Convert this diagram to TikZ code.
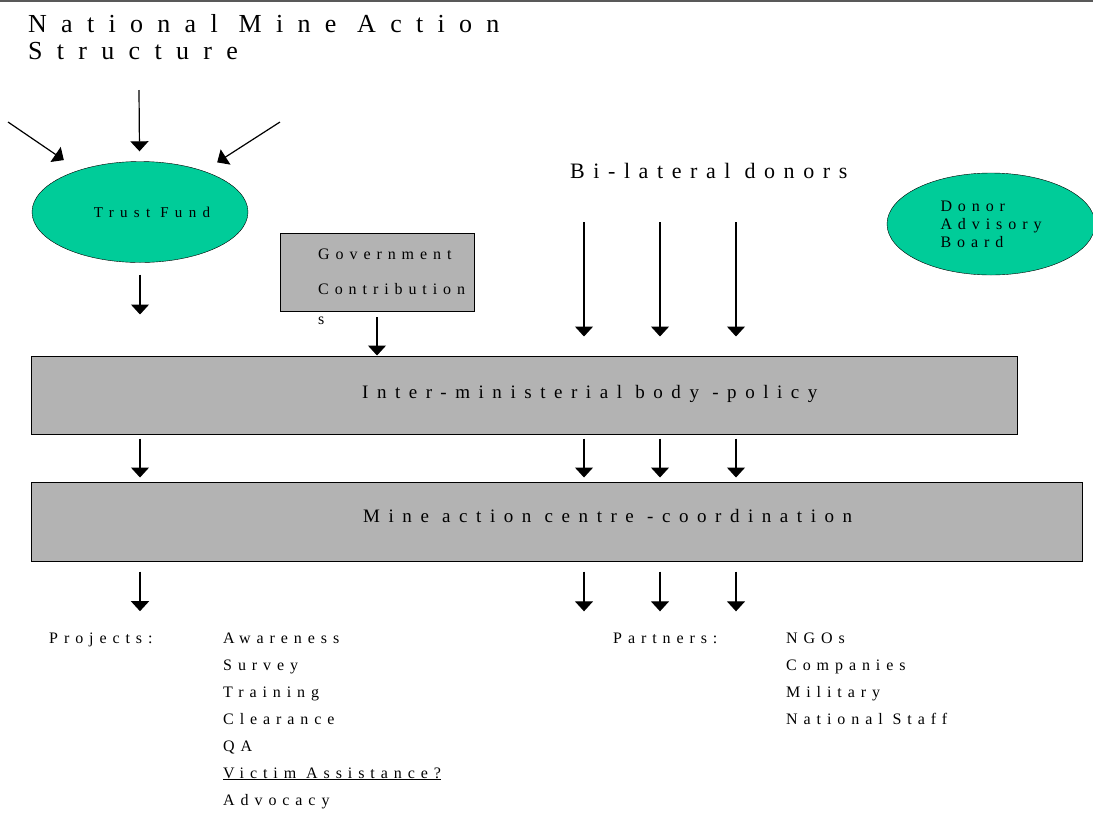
\documentclass[tikz,border=0pt]{standalone}
\usepackage{fontspec}
\setmainfont{Liberation Serif}
\newfontfamily\titlefont[LetterSpace=55]{Liberation Serif}
\newfontfamily\donorsfont[LetterSpace=39]{Liberation Serif}
\newfontfamily\levelfont[LetterSpace=45]{Liberation Serif}
\newfontfamily\listfont[LetterSpace=37]{Liberation Serif}
\newfontfamily\fundfont[LetterSpace=42]{Liberation Serif}
\usetikzlibrary{arrows.meta,positioning,shapes.geometric}
\definecolor{fundgreen}{RGB}{0,204,153}
\definecolor{levelgrey}{RGB}{179,179,179}
\tikzset{
    fund/.style ={
        shape=ellipse,
        draw=black,
        fill=fundgreen,
        inner sep=0pt
    },
    level/.style ={
        shape=rectangle,
        draw=black,
        line width=1pt,
        fill=levelgrey,
        inner sep=0pt
    },
    caption/.style ={
        inner sep=0pt,
        align=left,
        anchor=base west
    },
    flow/.style ={
        -{Triangle[width=18pt,length=10pt]},
        line width=1.2pt
    }
}

\begin{document}
\begin{tikzpicture}[x=1pt,y=-1pt]
    \useasboundingbox (0,0) rectangle (1093,812);
    \draw[line width=1.5pt,black!65] (0,1) -- (1093,1);
    % title (base = last line)
    \node[caption,font=\titlefont\fontsize{26}{27}\selectfont] (title) at (28,59) {National Mine Action\\Structure};
    % funds and donors
    \node[fund,minimum width=216pt,minimum height=101pt,font=\fundfont\fontsize{15}{18}\selectfont] (trust) at (140,212) {\hspace*{24pt}Trust Fund};
    \coordinate (src-l) at (8,122);
    \coordinate (src-m) at (139,90);
    \coordinate (src-r) at (280,122);
    \node[level,line width=0.8pt,minimum width=194pt,minimum height=78pt] (gov) at (377,272) {};
    \node[caption,font=\listfont\fontsize{16}{19}\selectfont] (gov-text) at (318,324) {Government\\[16pt]Contribution\\[11pt]s};
    \node[caption,font=\donorsfont\fontsize{22}{26}\selectfont] (bil) at (570,178) {Bi-lateral donors};
    \node[fund,minimum width=208pt,minimum height=102pt,align=left,font=\listfont\fontsize{16}{18}\selectfont] (board) at (991,224) {Donor\\Advisory\hspace*{10pt}\\Board};
    % levels
    \node[level,minimum width=986pt,minimum height=78pt] (policy) at (524,395) {};
    \node[caption,font=\levelfont\fontsize{19}{22}\selectfont] (policy-text) at (362,398) {Inter-ministerial body -policy};
    \node[level,minimum width=1051pt,minimum height=79pt] (coord) at (556.5,521.5) {};
    \node[caption,font=\levelfont\fontsize{19}{22}\selectfont] (coord-text) at (363,522) {Mine action centre -coordination};
    % outputs (base = last line)
    \node[caption,font=\listfont\fontsize{16}{27}\selectfont] (projects) at (49,643) {Projects:};
    \node[caption,font=\listfont\fontsize{16}{27}\selectfont] (project-list) at (223,805) {Awareness\\Survey\\Training\\Clearance\\QA\\\underline{Victim Assistance?}\\Advocacy};
    \node[caption,font=\listfont\fontsize{16}{27}\selectfont] (partners) at (613,643) {Partners:};
    \node[caption,font=\listfont\fontsize{16}{27}\selectfont] (partner-list) at (786,724) {NGOs\\Companies\\Military\\National Staff};
    % lanes
    \coordinate (lane0) at (140,0);
    \coordinate (lane1) at (584,0);
    \coordinate (lane2) at (660,0);
    \coordinate (lane3) at (736,0);
    % arrows
    \draw[flow,shorten >=18pt] (src-l) -- (trust);
    \draw[flow,shorten >=10pt] (src-m) -- (trust);
    \draw[flow,shorten >=16pt] (src-r) -- (trust);
    \draw[flow,shorten <=12pt,shorten >=41pt] (trust.south) -- (trust.south |- policy.north);
    \draw[flow,shorten <=6pt] (gov.south) -- (gov.south |- policy.north);
    \foreach \k in {1,2,3}
        \draw[flow,shorten <=44pt,shorten >=19pt] (bil.south -| lane\k) -- (policy.north -| lane\k);
    \foreach \k in {0,1,2,3}
        \draw[flow,shorten <=4pt,shorten >=4pt] (policy.south -| lane\k) -- (coord.north -| lane\k);
    \draw[flow,shorten <=10pt,shorten >=21pt] (coord.south -| lane0) -- (projects.north -| lane0);
    \foreach \k in {1,2,3}
        \draw[flow,shorten <=10pt,shorten >=21pt] (coord.south -| lane\k) -- (partners.north -| lane\k);
\end{tikzpicture}
\end{document}
